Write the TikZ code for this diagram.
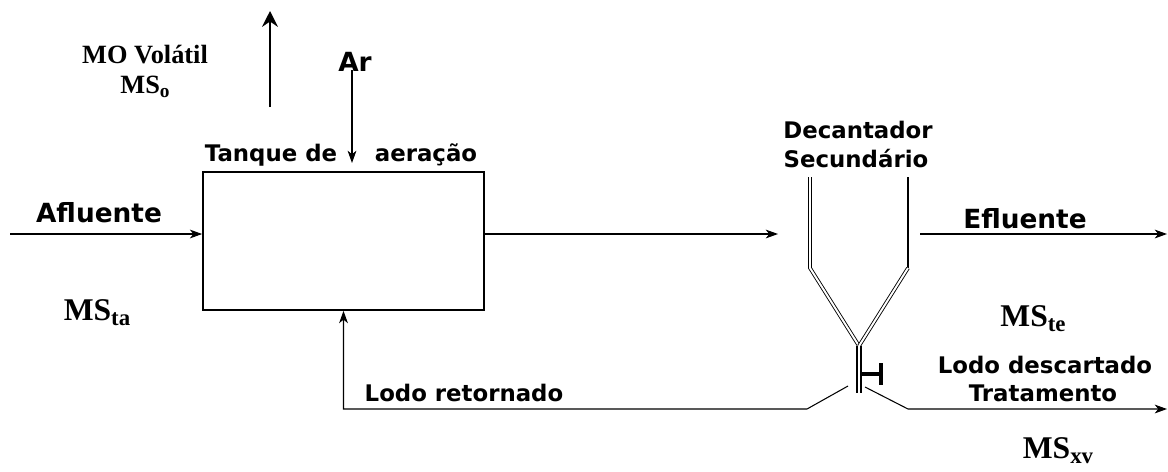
\documentclass[tikz,border=0pt]{standalone}
\usepackage{fontspec}
\setmainfont{Liberation Serif}
\setsansfont{DejaVu Sans}
\usetikzlibrary{arrows,arrows.meta}

\newcommand{\msub}[2][11]{\raisebox{-0.35ex}{\fontsize{#1}{#1}\selectfont #2}}

\tikzset{
  lbl/.style={font=\sffamily\bfseries\fontsize{15}{16}\selectfont, inner sep=0pt},
  small lbl/.style={font=\sffamily\bfseries\fontsize{13}{14}\selectfont, inner sep=0pt},
  ms/.style={font=\rmfamily\bfseries\fontsize{15}{17}\selectfont, inner sep=0pt},
  big ms/.style={font=\rmfamily\bfseries\fontsize{18}{20}\selectfont, inner sep=0pt},
  flow/.style={line width=0.6pt, -{Stealth[length=7pt,width=5pt,inset=2pt]}},
  wall/.style={double, double distance=1.1pt, line width=0.5pt},
}

\begin{document}
\begin{tikzpicture}[x=0.02cm,y=-0.02cm]
\useasboundingbox (0,0) rectangle (1168,471);

% tanque de aeracao
\node[draw, line width=1pt, minimum width=5.62cm, minimum height=2.76cm,
      inner sep=0pt] (tanque) at (343.5,241) {};
\node[small lbl] (tqa) at (271,155) {Tanque de};
\node[small lbl] (tqb) at (426,155) {aeração};

% entrada
\node[lbl] (aflu) at (99,213) {Afluente};
\coordinate (afin) at (10,234);
\draw[flow] (afin) -- (tanque.west |- afin);

% ar e materia organica
\node[lbl] (ar) at (355,62) {Ar};
\coordinate (ar0) at (352,70);
\coordinate (ar1) at (352,163);
\draw[flow] (ar0) -- (ar1);
\node[ms] (mo) at (145,55) {MO Volátil};
\node[ms] (mso) at (145,87) {MS\msub{o}};
\coordinate (mo0) at (270,107);
\coordinate (mo1) at (270,11);
\draw[line width=1.1pt, -{Stealth[length=9pt,width=9pt,inset=3pt]}] (mo0) -- (mo1);

% saida do tanque
\coordinate (dec) at (778,234);
\draw[flow] (tanque.east |- dec) -- (dec);

% decantador secundario
\node[small lbl] (deca) at (858,130) {Decantador};
\node[small lbl] (decb) at (856,159) {Secundário};
\coordinate (wl0) at (810,177);
\coordinate (wl1) at (810,268);
\coordinate (wr0) at (908,177);
\coordinate (wr1) at (908,268);
\coordinate (cone) at (859,346);
\coordinate (pipe) at (859,393);
\draw[wall] (wl0) -- (wl1) -- (cone);
\draw[line width=1.4pt] (wr0) -- (wr1);
\draw[wall] (wr1) -- (cone);
\draw[double, double distance=1pt, line width=1.4pt] (cone) -- (pipe);
\coordinate (h0) at (862,374);
\coordinate (h1) at (881,374);
\coordinate (h2) at (881,363);
\coordinate (h3) at (881,385);
\draw[line width=2pt] (h0) -- (h1) (h2) -- (h3);

% efluente
\node[lbl] (eflu) at (1025,219) {Efluente};
\coordinate (ef0) at (920,234);
\coordinate (ef1) at (1167,234);
\draw[flow] (ef0) -- (ef1);

% lodo retornado
\coordinate (lr0) at (848,386);
\coordinate (lr1) at (807,409);
\draw[flow] (lr0) -- (lr1) -- (tanque.south |- lr1) -- (tanque.south);
\node[small lbl] (lret) at (464,393) {Lodo retornado};

% lodo descartado
\coordinate (ld0) at (865,387);
\coordinate (ld1) at (908,409);
\coordinate (ld2) at (1167,409);
\draw[flow] (ld0) -- (ld1) -- (ld2);
\node[small lbl] (ldes) at (1045,365) {Lodo descartado};
\node[small lbl] (ltra) at (1043,393) {Tratamento};

% massas de solidos
\node[big ms] (msta) at (97,313) {MS\msub[13]{ta}};
\node[big ms] (mste) at (1033,319) {MS\msub[13]{te}};
\node[big ms] (msxv) at (1058,451) {MS\msub[13]{xv}};
\end{tikzpicture}
\end{document}
